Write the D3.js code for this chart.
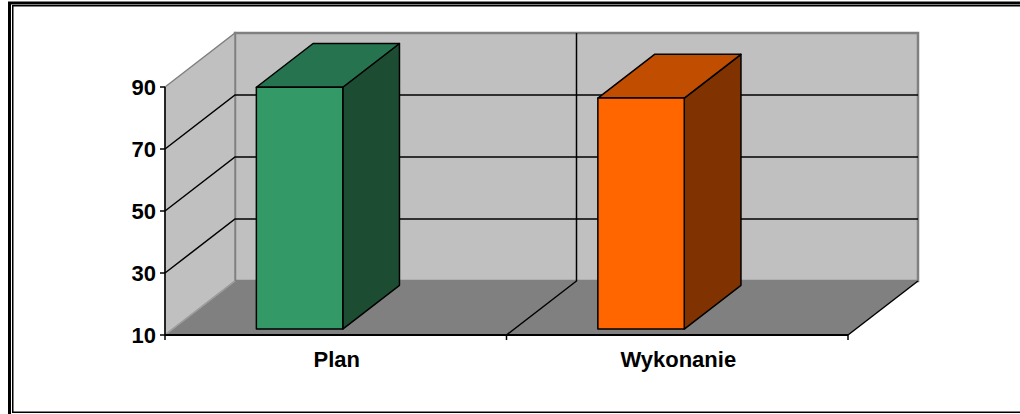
<!DOCTYPE html>
<html>
<head>
<meta charset="utf-8">
<script src="https://cdn.jsdelivr.net/npm/d3@7"></script>
<style>
  html, body { margin: 0; padding: 0; background: #fff; }
  svg { display: block; }
  text { font-family: Arial, "Liberation Sans", sans-serif; font-weight: bold; fill: #000; }
</style>
</head>
<body>
<svg id="chart" width="1020" height="414"></svg>
<script>
// Chart data
const categories = ["Plan", "Wykonanie"];
const values = [88, 84.5];
const yTicks = [10, 30, 50, 70, 90];
const barFront = ["#339966", "#ff6600"];
const barTop = ["#267350", "#c04d00"];
const barSide = ["#1c4d33", "#803300"];

const svg = d3.select("#chart");

// Frame: double border
svg.append("rect").attr("x", 9.5).attr("y", 3).attr("width", 1030).attr("height", 420)
  .attr("fill", "none").attr("stroke", "#000").attr("stroke-width", 3);
svg.append("rect").attr("x", 12.75).attr("y", 5.75).attr("width", 1030).attr("height", 406.5)
  .attr("fill", "none").attr("stroke", "#000").attr("stroke-width", 1.5);

// 3D oblique projection: z = 0 at the front of the floor, z = 1 at the back wall
const DX = 70, DY = 54;
const x = d3.scaleBand().domain(categories).range([165, 848]).padding(0);
const y = d3.scaleLinear().domain([10, 90]).range([335, 87]);
const [x0, x1] = x.range();
const [vMin, vMax] = y.domain();
const P = (px, v, z) => [px + z * DX, y(v) - z * DY];
const poly = pts => "M" + pts.map(p => p.join(",")).join("L") + "Z";
const line = pts => "M" + pts.map(p => p.join(",")).join("L");

const g = svg.append("g");

// Back wall
g.append("path")
  .attr("d", poly([P(x0, vMin, 1), P(x1, vMin, 1), P(x1, vMax, 1), P(x0, vMax, 1)]))
  .attr("fill", "#c0c0c0").attr("stroke", "#808080").attr("stroke-width", 2.5);

// Left side wall
g.append("path")
  .attr("d", poly([P(x0, vMin, 0), P(x0, vMin, 1), P(x0, vMax, 1), P(x0, vMax, 0)]))
  .attr("fill", "#c0c0c0").attr("stroke", "#808080").attr("stroke-width", 1.5);

// Floor
g.append("path")
  .attr("d", poly([P(x0, vMin, 0), P(x1, vMin, 0), P(x1, vMin, 1), P(x0, vMin, 1)]))
  .attr("fill", "#808080").attr("stroke", "none");
g.append("path")
  .attr("d", line([P(x0, vMin, 0), P(x0, vMin, 1)]))
  .attr("fill", "none").attr("stroke", "#a0a0a0").attr("stroke-width", 1.5);

// Gridlines on side wall and back wall
yTicks.filter(t => t !== vMin && t !== vMax).forEach(t => {
  g.append("path")
    .attr("d", line([P(x0, t, 0), P(x0, t, 1), P(x1, t, 1)]))
    .attr("fill", "none").attr("stroke", "#000").attr("stroke-width", 1.5);
});

// Category divider on floor and back wall
categories.slice(1).forEach(c => {
  const cx = x(c);
  g.append("path")
    .attr("d", line([P(cx, vMin, 0), P(cx, vMin, 1), P(cx, vMax, 1)]))
    .attr("fill", "none").attr("stroke", "#000").attr("stroke-width", 1.5);
});

// Right floor edge
g.append("path")
  .attr("d", line([P(x1, vMin, 0), P(x1, vMin, 1)]))
  .attr("fill", "none").attr("stroke", "#000").attr("stroke-width", 1.5);

// Bars
const z0 = 0.11, z1 = 0.92;
const bOff = 0.245, bW = 0.253;
categories.forEach((c, i) => {
  const l = x(c) + bOff * x.bandwidth();
  const r = l + bW * x.bandwidth();
  const v = values[i];
  const bars = g.append("g").attr("stroke", "#000").attr("stroke-width", 1.5).attr("stroke-linejoin", "round");
  // right side face
  bars.append("path")
    .attr("d", poly([P(r, vMin, z0), P(r, vMin, z1), P(r, v, z1), P(r, v, z0)]))
    .attr("fill", barSide[i]);
  // top face
  bars.append("path")
    .attr("d", poly([P(l, v, z0), P(r, v, z0), P(r, v, z1), P(l, v, z1)]))
    .attr("fill", barTop[i]);
  // front face
  bars.append("path")
    .attr("d", poly([P(l, vMin, z0), P(r, vMin, z0), P(r, v, z0), P(l, v, z0)]))
    .attr("fill", barFront[i]);
});

// Value axis
const yAxis = svg.append("g");
yAxis.append("line")
  .attr("x1", x0).attr("x2", x0).attr("y1", y(vMax)).attr("y2", y(vMin))
  .attr("stroke", "#000").attr("stroke-width", 1.5);
yTicks.forEach(t => {
  yAxis.append("line")
    .attr("x1", x0 - 5).attr("x2", x0).attr("y1", y(t)).attr("y2", y(t))
    .attr("stroke", "#000").attr("stroke-width", 1.5);
  yAxis.append("text")
    .attr("x", x0 - 9).attr("y", y(t)).attr("dy", "0.36em")
    .attr("text-anchor", "end").attr("font-size", 22)
    .text(t);
});

// Category axis
const xAxis = svg.append("g");
xAxis.append("line")
  .attr("x1", x0).attr("x2", x1).attr("y1", y(vMin)).attr("y2", y(vMin))
  .attr("stroke", "#000").attr("stroke-width", 2);
[x0, ...categories.slice(1).map(c => x(c)), x1].forEach(px => {
  xAxis.append("line")
    .attr("x1", px).attr("x2", px).attr("y1", y(vMin)).attr("y2", y(vMin) + 5)
    .attr("stroke", "#000").attr("stroke-width", 1.5);
});
categories.forEach(c => {
  xAxis.append("text")
    .attr("x", x(c) + x.bandwidth() / 2 + 1).attr("y", 367)
    .attr("text-anchor", "middle").attr("font-size", 22)
    .text(c);
});
</script>
</body>
</html>
